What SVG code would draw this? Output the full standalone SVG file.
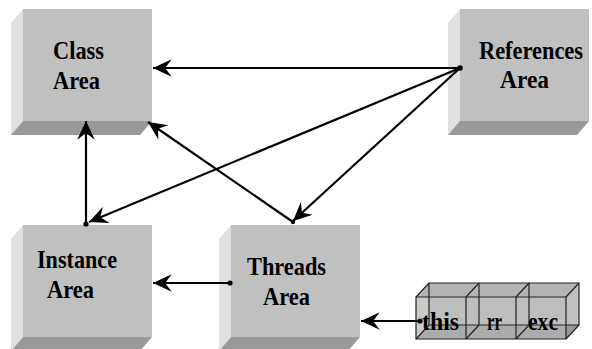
<svg xmlns="http://www.w3.org/2000/svg" width="592" height="349" viewBox="0 0 592 349">
<style>
.face{fill:#c0c0c0}
.side{fill:#e0e0e0}
.bot{fill:#999999}
.lbl{font-family:"Liberation Serif","Times New Roman",serif;font-weight:bold;font-size:26px;fill:#000}
.con{stroke:#000;stroke-width:2.2;fill:none}
.edge{stroke:#222;stroke-width:1.2;fill:none}
</style>
<defs>
<marker id="ah" markerUnits="userSpaceOnUse" markerWidth="22" markerHeight="22" viewBox="-18 -9 20 18" refX="0" refY="0" orient="auto">
<path d="M0,0 L-17,-8 L-11,0 L-17,8 Z" fill="#000"/>
</marker>
</defs>
<rect width="592" height="349" fill="#fff"/>
<g id="class-area">
<rect class="face" x="23" y="9" width="129" height="112"/>
<polygon class="side" points="23,9 11,23 11,135 23,121"/>
<polygon class="bot" points="23,121 152,121 140,135 11,135"/>
<text class="lbl" x="53" y="59" textLength="51" lengthAdjust="spacingAndGlyphs">Class</text>
<text class="lbl" x="53" y="89" textLength="47" lengthAdjust="spacingAndGlyphs">Area</text>
</g>
<g id="references-area">
<rect class="face" x="460" y="9" width="129" height="112"/>
<polygon class="side" points="460,9 448,23 448,135 460,121"/>
<polygon class="bot" points="460,121 589,121 577,135 448,135"/>
<text class="lbl" x="479" y="59" font-size="23" textLength="104" lengthAdjust="spacingAndGlyphs">References</text>
<text class="lbl" x="500" y="88" textLength="49" lengthAdjust="spacingAndGlyphs">Area</text>
</g>
<g id="instance-area">
<rect class="face" x="23" y="225" width="129" height="112"/>
<polygon class="side" points="23,225 11,239 11,351 23,337"/>
<polygon class="bot" points="23,337 152,337 140,351 11,351"/>
<text class="lbl" x="37" y="268" textLength="80" lengthAdjust="spacingAndGlyphs">Instance</text>
<text class="lbl" x="47" y="298" textLength="47" lengthAdjust="spacingAndGlyphs">Area</text>
</g>
<g id="threads-area">
<rect class="face" x="231" y="225" width="129" height="112"/>
<polygon class="side" points="231,225 219,239 219,351 231,337"/>
<polygon class="bot" points="231,337 360,337 348,351 219,351"/>
<text class="lbl" x="247" y="275" textLength="79" lengthAdjust="spacingAndGlyphs">Threads</text>
<text class="lbl" x="263" y="305" textLength="47" lengthAdjust="spacingAndGlyphs">Area</text>
</g>
<g id="frame-array">
<rect x="429" y="283" width="150" height="42" fill="#c0c0c0"/>
<polygon points="416,297 429,283 429,325 416,339" fill="#dadada"/>
<polygon points="416,339 429,325 579,325 566,339" fill="#9a9a9a"/>
<polygon points="416,297 429,283 579,283 566,297" fill="#b4b4b4"/>
<rect x="416" y="297" width="150" height="42" fill="#bcbcbc" fill-opacity="0.5"/>
<path class="edge" d="M429,283 H579 V325 H429 Z M479,283 V325 M529,283 V325"/>
<path class="edge" d="M416,297 L429,283 M466,297 L479,283 M516,297 L529,283 M566,297 L579,283 M416,339 L429,325 M466,339 L479,325 M516,339 L529,325 M566,339 L579,325"/>
<path class="edge" d="M416,297 H566 V339 H416 Z M466,297 V339 M516,297 V339"/>
<text class="lbl" x="422" y="330" textLength="37" lengthAdjust="spacingAndGlyphs">this</text>
<text class="lbl" x="487" y="330" textLength="15" lengthAdjust="spacingAndGlyphs">rr</text>
<text class="lbl" x="528" y="330" textLength="30" lengthAdjust="spacingAndGlyphs">exc</text>
</g>
<g id="connectors">
<line class="con" x1="460" y1="68" x2="153" y2="68" stroke-width="2.8" marker-end="url(#ah)"/>
<line class="con" x1="460" y1="68" x2="89" y2="222" marker-end="url(#ah)"/>
<line class="con" x1="460" y1="68" x2="293" y2="221" marker-end="url(#ah)"/>
<line class="con" x1="293" y1="222" x2="148" y2="122" marker-end="url(#ah)"/>
<line class="con" x1="86" y1="224" x2="86" y2="121" stroke-width="2.6" marker-end="url(#ah)"/>
<line class="con" x1="230" y1="283" x2="153" y2="283" stroke-width="2.6" marker-end="url(#ah)"/>
<line class="con" x1="420" y1="321" x2="361" y2="321" stroke-width="2.6" marker-end="url(#ah)"/>
<circle cx="460" cy="68" r="2.8" fill="#000"/>
<circle cx="86" cy="224" r="2.6" fill="#000"/>
<circle cx="293" cy="222" r="2.2" fill="#000"/>
<circle cx="230" cy="283" r="2.6" fill="#000"/>
<circle cx="420" cy="321" r="2.6" fill="#000"/>
</g>
</svg>
